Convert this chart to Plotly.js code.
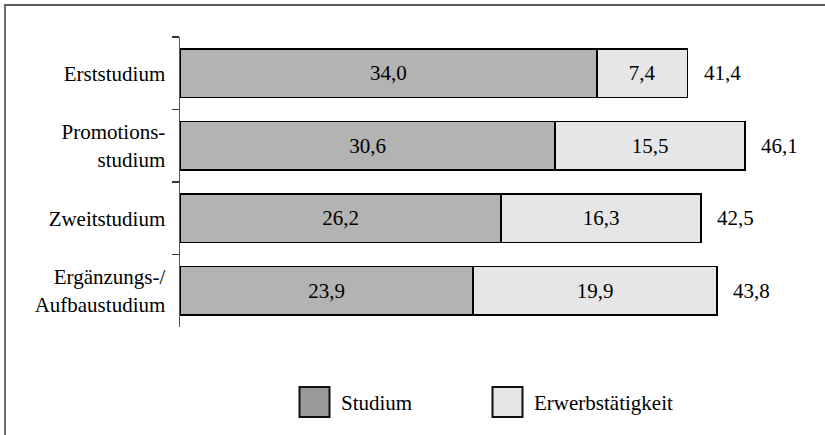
<!DOCTYPE html>
<html><head><meta charset="utf-8">
<script src="https://cdn.plot.ly/plotly-3.0.1.min.js"></script>
<style>
html,body{margin:0;padding:0;background:#fff;}
#wrap{position:relative;width:825px;height:435px;}
#chart{position:absolute;left:0;top:0;width:825px;height:435px;}
#frame{position:absolute;left:4px;top:4px;width:830px;height:440px;border-left:2px solid #6e6e6e;border-top:2px solid #5a5a5a;pointer-events:none;}
</style></head>
<body><div id="wrap"><div id="chart"></div><div id="frame"></div></div>
<script>
const categories = ["Erststudium", "Promotions-<br>studium", "Zweitstudium", "Ergänzungs-/<br>Aufbaustudium"];
const studium = [34.0, 30.6, 26.2, 23.9];
const erwerb = [7.4, 15.5, 16.3, 19.9];
const totals = [41.4, 46.1, 42.5, 43.8];
const seriesNames = ["Studium", "Erwerbstätigkeit"];

const FONT = "Liberation Serif";
const barLine = {color: "#000", width: 1.5};

const traces = [
  {type: "bar", orientation: "h", y: categories, x: studium, name: seriesNames[0],
   marker: {color: "#b3b3b3", line: barLine}, showlegend: false,
   texttemplate: "%{x:.1f}", textposition: "inside", insidetextanchor: "middle",
   textfont: {family: FONT, size: 21, color: "#000"}, hoverinfo: "skip", constraintext: "none"},
  {type: "bar", orientation: "h", y: categories, x: erwerb, name: seriesNames[1],
   marker: {color: "#e6e6e6", line: barLine}, showlegend: false,
   texttemplate: "%{x:.1f}", textposition: "inside", insidetextanchor: "middle",
   textfont: {family: FONT, size: 21, color: "#000"}, hoverinfo: "skip", constraintext: "none"},
  {type: "bar", orientation: "h", y: [null], x: [null], name: seriesNames[0],
   marker: {color: "#9a9a9a", line: {color: "#111", width: 1}}, showlegend: true},
  {type: "bar", orientation: "h", y: [null], x: [null], name: seriesNames[1],
   marker: {color: "#e6e6e6", line: {color: "#111", width: 1}}, showlegend: true}
];

const annotations = categories.map((c, i) => ({
  x: totals[i], y: c, xref: "x", yref: "y", text: totals[i].toFixed(1).replace(".", ","),
  showarrow: false, xanchor: "left", xshift: 14, font: {family: FONT, size: 21, color: "#000"}
}));

const layout = {
  width: 825, height: 435,
  margin: {l: 180, r: 32, t: 37, b: 108},
  paper_bgcolor: "#fff", plot_bgcolor: "#fff",
  barmode: "stack", bargap: 0.33,
  separators: ",.",
  font: {family: FONT, size: 21, color: "#000"},
  xaxis: {range: [0, 50], visible: false, showgrid: false, zeroline: false},
  yaxis: {type: "category", autorange: "reversed", showline: true, linecolor: "#555", linewidth: 1.5,
          ticks: "outside", tickson: "boundaries", ticklen: 7, tickcolor: "#333", tickwidth: 1.5,
          showgrid: false, zeroline: false, ticklabelstandoff: 9,
          tickfont: {family: FONT, size: 21, color: "#000"}},
  showlegend: true,
  legend: {orientation: "h", traceorder: "normal", x: 0.1762, xanchor: "left", y: -0.26, yanchor: "middle",
           font: {family: FONT, size: 21, color: "#000"}, itemwidth: 43,
           entrywidth: 135, entrywidthmode: "pixels", bgcolor: "rgba(0,0,0,0)"},
  annotations: annotations
};

Plotly.newPlot("chart", traces, layout, {displayModeBar: false, staticPlot: true}).then(() => {
  const gd = document.getElementById("chart");
  gd.querySelectorAll(".legend [clip-path]").forEach(el => el.removeAttribute("clip-path"));
  gd.querySelectorAll(".legend .traces").forEach(item => {
    const txt = item.querySelector("text.legendtext");
    const path = item.querySelector(".legendpoints path");
    if (!txt || !path) return;
    const orig = path.getAttribute("transform") || "";
    path.setAttribute("transform", orig + " scale(2.5)");
    path.style.strokeWidth = "0.8px";
    const tb = txt.getBoundingClientRect();
    const pb = path.getBoundingClientRect();
    const cx = pb.left + pb.width / 2;
    const dx = (tb.left - 26.5) - cx;
    path.setAttribute("transform", "translate(" + dx + ",0) " + orig + " scale(2.5)");
  });
});
</script></body></html>
